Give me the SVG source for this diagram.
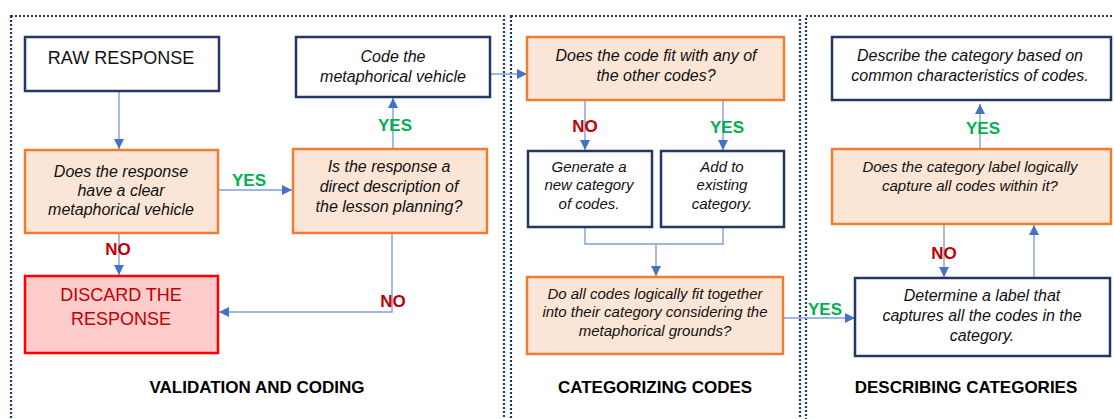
<svg xmlns="http://www.w3.org/2000/svg" width="1114" height="419" viewBox="0 0 1114 419">
  <defs>
    <marker id="arrow" viewBox="0 0 10 10" refX="10" refY="5" markerWidth="10" markerHeight="10" markerUnits="userSpaceOnUse" orient="auto">
      <path d="M0,0 L10,5 L0,10 Z" fill="#4472c4"/>
    </marker>
    <style>
      .panel { fill: none; stroke: #1f3864; stroke-width: 2.2; stroke-dasharray: 2 2; }
      .plain { fill: #ffffff; stroke: #1f3864; stroke-width: 2.5; }
      .decision { fill: #fbe5d6; stroke: #ed7d31; stroke-width: 2.5; }
      .discard { fill: #ffcccc; stroke: #ff0000; stroke-width: 2.5; }
      .link { fill: none; stroke: #7f9fd9; stroke-width: 1.4; }
      .arrowed { marker-end: url(#arrow); }
      text { font-family: "Liberation Sans", Arial, sans-serif; text-anchor: middle; }
      .it { font-style: italic; font-size: 16px; fill: #111111; }
      .sm { font-size: 15px; }
      .big { font-size: 18px; fill: #111111; }
      .red { font-size: 18px; fill: #c00000; }
      .yes { font-size: 17px; font-weight: bold; fill: #00b050; }
      .no { font-size: 17px; font-weight: bold; fill: #c00000; }
      .title { font-size: 17px; font-weight: bold; fill: #000000; }
    </style>
  </defs>
  <rect width="1114" height="419" fill="#ffffff"/>

  <!-- stage panels -->
  <g id="panels">
    <rect class="panel" x="11" y="16" width="493" height="420"/>
    <rect class="panel" x="511" y="16" width="289" height="420"/>
    <rect class="panel" x="806" y="16" width="320" height="420"/>
    <text class="title" x="257" y="393">VALIDATION AND CODING</text>
    <text class="title" x="655" y="393">CATEGORIZING CODES</text>
    <text class="title" x="966" y="393">DESCRIBING CATEGORIES</text>
  </g>

  <!-- connectors -->
  <g id="connectors">
    <line class="link arrowed" x1="119" y1="91" x2="119" y2="149"/>
    <line class="link arrowed" x1="218" y1="190" x2="292" y2="190"/>
    <line class="link arrowed" x1="393" y1="149" x2="393" y2="98"/>
    <line class="link arrowed" x1="119" y1="233" x2="119" y2="275"/>
    <polyline class="link arrowed" points="392,233 392,312 219,312"/>
    <line class="link arrowed" x1="490" y1="74" x2="527" y2="74"/>
    <line class="link arrowed" x1="585" y1="100" x2="585" y2="150"/>
    <line class="link arrowed" x1="723" y1="100" x2="723" y2="150"/>
    <polyline class="link" points="585,227 585,244 723,244 723,227"/>
    <line class="link arrowed" x1="656" y1="244" x2="656" y2="276"/>
    <line class="link arrowed" x1="783" y1="318" x2="855" y2="318"/>
    <line class="link arrowed" x1="980" y1="149" x2="980" y2="104"/>
    <line class="link arrowed" x1="944" y1="224" x2="944" y2="277"/>
    <line class="link arrowed" x1="1034" y1="278" x2="1034" y2="225"/>
    <text class="yes" x="249" y="186">YES</text>
    <text class="yes" x="395" y="131">YES</text>
    <text class="no" x="118" y="255">NO</text>
    <text class="no" x="393" y="307">NO</text>
    <text class="no" x="585" y="132">NO</text>
    <text class="yes" x="727" y="133">YES</text>
    <text class="yes" x="825" y="315">YES</text>
    <text class="yes" x="983" y="134">YES</text>
    <text class="no" x="944" y="259">NO</text>
  </g>

  <g id="raw-response">
    <rect class="plain" x="25" y="37" width="194" height="54"/>
    <text class="big" x="121" y="64">RAW RESPONSE</text>
  </g>

  <g id="clear-vehicle">
    <rect class="decision" x="25" y="150" width="193" height="83"/>
    <text class="it" x="121" y="177">Does the response</text>
    <text class="it" x="121" y="196">have a clear</text>
    <text class="it" x="121" y="215">metaphorical vehicle</text>
  </g>

  <g id="direct-description">
    <rect class="decision" x="293" y="149" width="194" height="84"/>
    <text class="it" x="389" y="172">Is the response a</text>
    <text class="it" x="389" y="192">direct description of</text>
    <text class="it" x="389" y="212">the lesson planning?</text>
  </g>

  <g id="code-vehicle">
    <rect class="plain" x="296" y="37" width="194" height="60"/>
    <text class="it" x="393" y="62">Code the</text>
    <text class="it" x="393" y="82">metaphorical vehicle</text>
  </g>

  <g id="discard">
    <rect class="discard" x="25" y="276" width="193" height="77"/>
    <text class="red" x="121" y="301">DISCARD THE</text>
    <text class="red" x="121" y="325">RESPONSE</text>
  </g>

  <g id="code-fit">
    <rect class="decision" x="527" y="37" width="257" height="63"/>
    <text class="it" x="656" y="61">Does the code fit with any of</text>
    <text class="it" x="656" y="81">the other codes?</text>
  </g>

  <g id="new-category">
    <rect class="plain" x="528" y="151" width="124" height="76"/>
    <text class="it sm" x="589" y="172">Generate a</text>
    <text class="it sm" x="589" y="190">new category</text>
    <text class="it sm" x="589" y="209">of codes.</text>
  </g>

  <g id="existing-category">
    <rect class="plain" x="661" y="151" width="123" height="76"/>
    <text class="it sm" x="722" y="172">Add to</text>
    <text class="it sm" x="722" y="190">existing</text>
    <text class="it sm" x="722" y="209">category.</text>
  </g>

  <g id="codes-fit-together">
    <rect class="decision" x="527" y="277" width="256" height="77"/>
    <text class="it sm" x="655" y="299">Do all codes logically fit together</text>
    <text class="it sm" x="655" y="317">into their category considering the</text>
    <text class="it sm" x="655" y="336">metaphorical grounds?</text>
  </g>

  <g id="describe-category">
    <rect class="plain" x="832" y="37" width="279" height="63"/>
    <text class="it" x="970" y="61">Describe the category based on</text>
    <text class="it" x="970" y="81">common characteristics of codes.</text>
  </g>

  <g id="label-check">
    <rect class="decision" x="832" y="149" width="279" height="75"/>
    <text class="it sm" x="970" y="172">Does the category label logically</text>
    <text class="it sm" x="970" y="191">capture all codes within it?</text>
  </g>

  <g id="determine-label">
    <rect class="plain" x="855" y="278" width="255" height="78"/>
    <text class="it" x="982" y="301">Determine a label that</text>
    <text class="it" x="982" y="321">captures all the codes in the</text>
    <text class="it" x="982" y="341">category.</text>
  </g>
</svg>
